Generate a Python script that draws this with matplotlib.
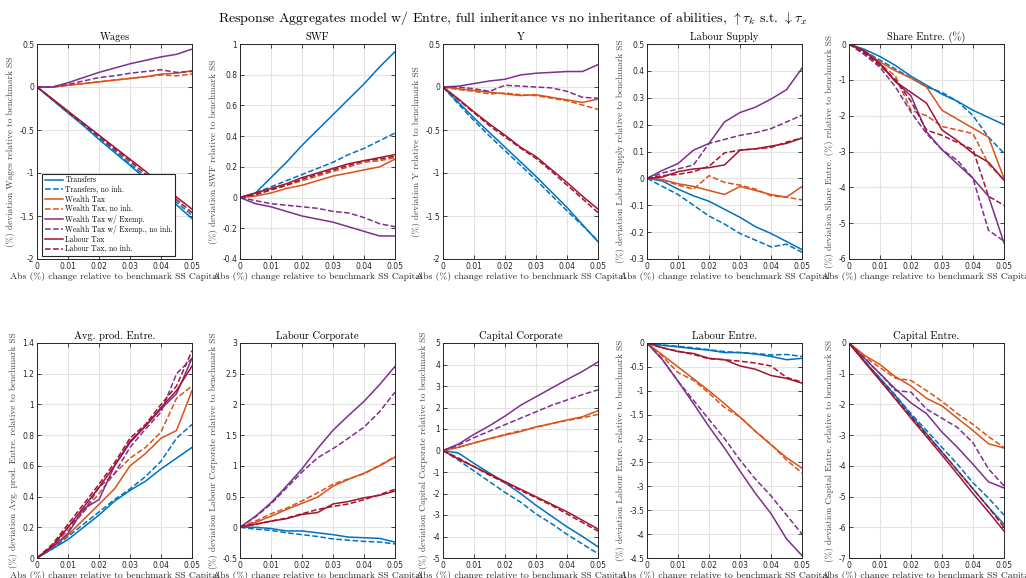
import numpy as np
import matplotlib
matplotlib.use("Agg")
import matplotlib.pyplot as plt

plt.rcParams['mathtext.fontset'] = 'cm'
plt.rcParams['axes.unicode_minus'] = False

# ---- data ---------------------------------------------------------------
x = [0, 0.005, 0.01, 0.015, 0.02, 0.025, 0.03, 0.035, 0.04, 0.045, 0.05]

series_names = ["Transfers", "Transfers, no inh.", "Wealth Tax", "Wealth Tax, no inh.",
                "Wealth Tax w/ Exemp.", "Wealth Tax w/ Exemp., no inh.",
                "Labour Tax", "Labour Tax, no inh."]

titles = ["Wages", "SWF", "Y", "Labour Supply", "Share Entre. (%)",
          "Avg. prod. Entre.", "Labour Corporate", "Capital Corporate",
          "Labour Entre.", "Capital Entre."]

ylims = [(-2, 0.5), (-0.4, 1), (-2, 0.5), (-0.3, 0.5), (-6, 0),
         (0, 1.4), (-0.5, 3), (-5, 5), (-4.5, 0), (-7, 0)]

yticks = [[-2, -1.5, -1, -0.5, 0, 0.5],
          [-0.4, -0.2, 0, 0.2, 0.4, 0.6, 0.8, 1],
          [-2, -1.5, -1, -0.5, 0, 0.5],
          [-0.3, -0.2, -0.1, 0, 0.1, 0.2, 0.3, 0.4, 0.5],
          [-6, -5, -4, -3, -2, -1, 0],
          [0, 0.2, 0.4, 0.6, 0.8, 1, 1.2, 1.4],
          [-0.5, 0, 0.5, 1, 1.5, 2, 2.5, 3],
          [-5, -4, -3, -2, -1, 0, 1, 2, 3, 4, 5],
          [-4.5, -4, -3.5, -3, -2.5, -2, -1.5, -1, -0.5, 0],
          [-7, -6, -5, -4, -3, -2, -1, 0]]

# order: transfers, transfers no inh, wealth, wealth no inh, exemp, exemp no inh, labour, labour no inh
wages = [
    [0, -0.15, -0.30, -0.45, -0.61, -0.76, -0.91, -1.07, -1.22, -1.37, -1.53],
    [0, -0.15, -0.30, -0.44, -0.59, -0.74, -0.89, -1.04, -1.19, -1.34, -1.49],
    [0, 0.0, 0.02, 0.04, 0.06, 0.08, 0.10, 0.12, 0.15, 0.16, 0.19],
    [0, 0.0, 0.02, 0.04, 0.06, 0.08, 0.10, 0.12, 0.14, 0.13, 0.15],
    [0, 0.0, 0.05, 0.11, 0.17, 0.22, 0.27, 0.31, 0.35, 0.38, 0.44],
    [0, 0.0, 0.03, 0.07, 0.11, 0.13, 0.16, 0.18, 0.20, 0.17, 0.18],
    [0, -0.14, -0.28, -0.42, -0.56, -0.70, -0.84, -0.98, -1.13, -1.28, -1.42],
    [0, -0.14, -0.29, -0.43, -0.57, -0.72, -0.86, -1.01, -1.16, -1.31, -1.46],
]
swf = [
    [0, 0.03, 0.13, 0.23, 0.34, 0.44, 0.54, 0.64, 0.74, 0.85, 0.95],
    [0, 0.03, 0.07, 0.11, 0.15, 0.19, 0.23, 0.28, 0.32, 0.37, 0.42],
    [0, 0.01, 0.03, 0.06, 0.08, 0.11, 0.14, 0.16, 0.18, 0.20, 0.25],
    [0, 0.02, 0.05, 0.08, 0.11, 0.14, 0.17, 0.20, 0.23, 0.24, 0.26],
    [0, -0.04, -0.06, -0.09, -0.12, -0.14, -0.16, -0.19, -0.22, -0.25, -0.25],
    [0, -0.02, -0.04, -0.05, -0.06, -0.07, -0.09, -0.10, -0.13, -0.17, -0.19],
    [0, 0.03, 0.06, 0.09, 0.13, 0.16, 0.19, 0.22, 0.24, 0.26, 0.28],
    [0, 0.02, 0.05, 0.08, 0.12, 0.15, 0.18, 0.21, 0.24, 0.25, 0.27],
]
output_y = [
    [0, -0.18, -0.36, -0.53, -0.70, -0.87, -1.04, -1.22, -1.40, -1.60, -1.80],
    [0, -0.20, -0.39, -0.57, -0.74, -0.91, -1.08, -1.26, -1.44, -1.61, -1.79],
    [0, -0.02, -0.04, -0.06, -0.08, -0.10, -0.09, -0.12, -0.15, -0.18, -0.14],
    [0, -0.03, -0.05, -0.08, -0.07, -0.09, -0.10, -0.13, -0.16, -0.21, -0.26],
    [0, 0.01, 0.04, 0.07, 0.09, 0.14, 0.16, 0.17, 0.18, 0.18, 0.26],
    [0, 0.0, -0.02, -0.05, 0.02, 0.01, 0.0, -0.01, -0.05, -0.12, -0.13],
    [0, -0.14, -0.29, -0.43, -0.56, -0.70, -0.81, -0.96, -1.11, -1.27, -1.42],
    [0, -0.15, -0.30, -0.45, -0.58, -0.71, -0.83, -0.98, -1.14, -1.30, -1.46],
]
labour_supply = [
    [0, -0.01, -0.04, -0.065, -0.085, -0.115, -0.145, -0.18, -0.205, -0.235, -0.265],
    [0, -0.03, -0.06, -0.10, -0.14, -0.17, -0.205, -0.23, -0.255, -0.245, -0.275],
    [0, -0.005, -0.02, -0.03, -0.045, -0.06, -0.03, -0.045, -0.06, -0.07, -0.03],
    [0, -0.005, -0.025, -0.04, 0.01, -0.015, -0.025, -0.04, -0.065, -0.07, -0.08],
    [0, 0.03, 0.055, 0.105, 0.13, 0.21, 0.245, 0.265, 0.295, 0.33, 0.41],
    [0, 0.02, 0.035, 0.05, 0.13, 0.145, 0.16, 0.17, 0.185, 0.21, 0.235],
    [0, 0.005, 0.025, 0.035, 0.04, 0.05, 0.105, 0.11, 0.12, 0.13, 0.15],
    [0, 0.01, 0.015, 0.025, 0.045, 0.095, 0.105, 0.11, 0.115, 0.135, 0.15],
]
share_entre = [
    [0, -0.15, -0.35, -0.6, -0.9, -1.15, -1.4, -1.6, -1.85, -2.05, -2.25],
    [0, -0.2, -0.45, -0.7, -0.95, -1.2, -1.35, -1.6, -2.0, -2.6, -3.05],
    [0, -0.2, -0.5, -0.75, -0.95, -1.2, -1.85, -2.1, -2.35, -2.6, -3.75],
    [0, -0.25, -0.55, -0.9, -1.85, -2.0, -2.3, -2.4, -2.5, -3.35, -3.8],
    [0, -0.2, -0.55, -1.05, -1.45, -2.45, -2.95, -3.35, -3.75, -4.25, -5.55],
    [0, -0.3, -0.65, -1.2, -1.9, -2.5, -2.95, -3.25, -3.75, -5.2, -5.5],
    [0, -0.2, -0.55, -1.05, -1.35, -1.65, -2.4, -2.7, -3.05, -3.3, -3.8],
    [0, -0.25, -0.6, -1.0, -1.6, -2.4, -2.55, -2.75, -2.95, -4.25, -4.5],
]
avg_prod = [
    [0, 0.06, 0.12, 0.2, 0.28, 0.37, 0.44, 0.5, 0.58, 0.65, 0.72],
    [0, 0.06, 0.14, 0.22, 0.3, 0.38, 0.45, 0.53, 0.63, 0.78, 0.87],
    [0, 0.07, 0.15, 0.25, 0.35, 0.45, 0.6, 0.68, 0.78, 0.83, 1.09],
    [0, 0.08, 0.18, 0.3, 0.42, 0.55, 0.65, 0.72, 0.82, 1.04, 1.12],
    [0, 0.07, 0.16, 0.32, 0.38, 0.6, 0.75, 0.86, 0.97, 1.07, 1.3],
    [0, 0.08, 0.2, 0.3, 0.46, 0.55, 0.72, 0.84, 0.95, 1.2, 1.3],
    [0, 0.08, 0.2, 0.33, 0.46, 0.6, 0.76, 0.86, 0.98, 1.09, 1.25],
    [0, 0.09, 0.22, 0.35, 0.48, 0.62, 0.78, 0.87, 1.0, 1.12, 1.35],
]
labour_corp = [
    [0, 0.0, -0.02, -0.06, -0.06, -0.09, -0.12, -0.16, -0.17, -0.18, -0.24],
    [0, -0.03, -0.05, -0.09, -0.12, -0.15, -0.19, -0.21, -0.23, -0.24, -0.27],
    [0, 0.08, 0.18, 0.29, 0.39, 0.49, 0.67, 0.78, 0.88, 1.0, 1.14],
    [0, 0.1, 0.22, 0.31, 0.43, 0.56, 0.7, 0.79, 0.87, 1.01, 1.15],
    [0, 0.18, 0.4, 0.67, 0.95, 1.28, 1.58, 1.82, 2.05, 2.32, 2.62],
    [0, 0.17, 0.38, 0.64, 0.9, 1.13, 1.28, 1.45, 1.63, 1.88, 2.2],
    [0, 0.05, 0.1, 0.14, 0.21, 0.24, 0.38, 0.42, 0.48, 0.52, 0.59],
    [0, 0.05, 0.1, 0.15, 0.22, 0.29, 0.34, 0.38, 0.45, 0.53, 0.62],
]
capital_corp = [
    [0, -0.12, -0.6, -1.05, -1.5, -2.0, -2.55, -3.05, -3.55, -4.0, -4.48],
    [0, -0.45, -0.95, -1.45, -1.95, -2.4, -2.95, -3.4, -3.9, -4.35, -4.8],
    [0, 0.15, 0.35, 0.55, 0.72, 0.88, 1.1, 1.25, 1.42, 1.57, 1.85],
    [0, 0.15, 0.35, 0.55, 0.75, 0.92, 1.08, 1.25, 1.4, 1.52, 1.68],
    [0, 0.3, 0.75, 1.15, 1.6, 2.1, 2.5, 2.9, 3.3, 3.68, 4.12],
    [0, 0.25, 0.6, 0.9, 1.2, 1.5, 1.8, 2.1, 2.35, 2.6, 2.82],
    [0, -0.4, -0.75, -1.1, -1.45, -1.8, -2.15, -2.5, -2.85, -3.25, -3.65],
    [0, -0.35, -0.75, -1.15, -1.5, -1.85, -2.2, -2.55, -2.95, -3.35, -3.75],
]
labour_entre = [
    [0, -0.05, -0.08, -0.12, -0.15, -0.2, -0.2, -0.23, -0.28, -0.35, -0.32],
    [0, -0.04, -0.07, -0.1, -0.14, -0.18, -0.2, -0.22, -0.25, -0.24, -0.28],
    [0, -0.25, -0.5, -0.75, -1.0, -1.27, -1.55, -1.85, -2.13, -2.4, -2.62],
    [0, -0.28, -0.62, -0.78, -1.05, -1.35, -1.55, -1.85, -2.12, -2.45, -2.72],
    [0, -0.35, -0.8, -1.27, -1.75, -2.2, -2.68, -3.15, -3.57, -4.1, -4.45],
    [0, -0.35, -0.8, -1.2, -1.6, -2.0, -2.45, -2.85, -3.2, -3.6, -4.0],
    [0, -0.1, -0.18, -0.22, -0.32, -0.35, -0.48, -0.55, -0.68, -0.74, -0.84],
    [0, -0.1, -0.17, -0.24, -0.33, -0.35, -0.38, -0.42, -0.48, -0.72, -0.82],
]
capital_entre = [
    [0, -0.6, -1.15, -1.72, -2.35, -2.95, -3.55, -4.15, -4.75, -5.35, -5.9],
    [0, -0.6, -1.15, -1.7, -2.3, -2.85, -3.4, -3.95, -4.55, -5.05, -5.6],
    [0, -0.4, -0.7, -1.1, -1.4, -1.8, -2.05, -2.45, -2.85, -3.28, -3.42],
    [0, -0.45, -0.8, -1.15, -1.22, -1.55, -1.9, -2.3, -2.65, -3.05, -3.4],
    [0, -0.5, -1.0, -1.5, -1.95, -2.3, -2.9, -3.4, -3.95, -4.52, -4.72],
    [0, -0.5, -1.0, -1.55, -1.6, -2.15, -2.45, -2.75, -3.25, -4.1, -4.65],
    [0, -0.62, -1.22, -1.83, -2.45, -3.05, -3.65, -4.27, -4.9, -5.5, -6.12],
    [0, -0.6, -1.2, -1.8, -2.4, -2.98, -3.55, -4.15, -4.75, -5.35, -6.0],
]

panels = [wages, swf, output_y, labour_supply, share_entre,
          avg_prod, labour_corp, capital_corp, labour_entre, capital_entre]

# MATLAB default colours
colors = ['#0072BD', '#0072BD', '#D95319', '#D95319',
          '#7E2F8E', '#7E2F8E', '#A2142F', '#A2142F']
styles = ['-', '--', '-', '--', '-', '--', '-', '--']

# ---- figure -------------------------------------------------------------
fig = plt.figure(figsize=(10.26, 5.78), dpi=100)
W, H = 1026, 578
lefts = [37, 240, 443, 647, 849]
tops = [44, 343]
aw, ah = 155, 215

serif = 'cmr10'

for i, data in enumerate(panels):
    r, c = divmod(i, 5)
    ax = fig.add_axes([lefts[c] / W, 1 - (tops[r] + ah) / H, aw / W, ah / H])
    for k in range(8):
        ax.plot(x, data[k], color=colors[k], linestyle=styles[k], lw=1.1,
                label=series_names[k])
    ax.set_xlim(0, 0.05)
    ax.set_ylim(*ylims[i])
    ax.set_xticks([0, 0.01, 0.02, 0.03, 0.04, 0.05])
    ax.set_xticklabels(['0', '0.01', '0.02', '0.03', '0.04', '0.05'])
    ax.set_yticks(yticks[i])
    ax.set_yticklabels(['%g' % v for v in yticks[i]])
    ax.grid(True, color='#e3e3e3', lw=0.8)
    ax.set_axisbelow(True)
    ax.tick_params(direction='in', top=True, right=True, labelsize=5.5,
                   length=3, width=0.6, colors='#262626', pad=2)
    for s in ax.spines.values():
        s.set_color('#262626')
        s.set_linewidth(0.7)
    name = titles[i]
    ax.set_title(name, fontfamily=serif, fontsize=7.6, pad=3)
    ax.set_ylabel('(%%) deviation %s relative to benchmark SS' % name,
                  fontfamily=serif, fontsize=6.7, color='#444444', labelpad=3)
    ax.set_xlabel('Abs (%) change relative to benchmark SS Capital',
                  fontfamily=serif, fontsize=6.9, color='#262626', labelpad=1)
    if i == 0:
        leg = ax.legend(loc='lower left', bbox_to_anchor=(0.035, 0.015),
                        prop={'family': serif, 'size': 5.5}, fancybox=False,
                        framealpha=1, edgecolor='#262626', handlelength=2.4,
                        borderpad=0.3, labelspacing=0.17, handletextpad=0.3,
                        borderaxespad=0)
        leg.get_frame().set_linewidth(0.8)

fig.suptitle(r'Response Aggregates model w/ Entre, full inheritance vs no inheritance of abilities, '
             r'$\uparrow \tau_k$ s.t. $\downarrow \tau_x$',
             fontfamily=serif, fontsize=10, y=0.985)

fig.savefig('out.png', dpi=100)
